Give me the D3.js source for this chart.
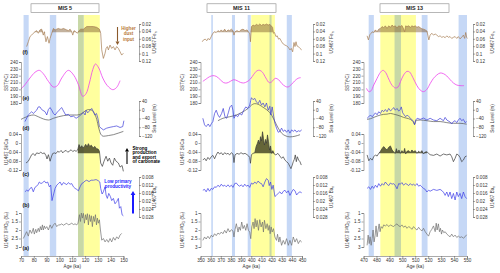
<!DOCTYPE html>
<html><head><meta charset="utf-8">
<script src="https://cdn.jsdelivr.net/npm/d3@7"></script>
<style>body{margin:0;background:#fff}svg{display:block}text{font-family:"Liberation Sans",Arial,sans-serif}</style>
</head><body><svg id="c" width="500" height="273"></svg>
<script>
// ---------------- DATA ----------------
const ticks5 = [70,80,90,100,110,120,130,140,150];
const ticks11 = [350,360,370,380,390,400,410,420,430,440,450];
const ticks13 = [470,480,490,500,510,520,530,540,550];
const feTicks = [0.02,0.04,0.06,0.08,0.1,0.12];
const sstTicks = [180,190,200,210,220,230,240];
const slTicks = [40,0,-40,-80,-120];
const sicaTicks = [0.04,0,-0.04,-0.08,-0.12];
const baTicks = [0.008,0.012,0.016,0.02,0.024,0.028];
const d18oTicks = [1,1.5,2,2.5,3];

const bands5 = [[119,131.5,"yellow"],[72,76,"blue"],[92.5,97.5,"blue"],[114.5,119,"green"]];
const bands11 = [[400,423.3,"yellow"],[360.6,362.2,"blue"],[381,384,"blue"],[396.5,399.5,"blue"],[418,420,"green"],[435,440,"blue"]];
const bands13 = [[483,510.5,"yellow"],[474,478,"blue"],[494,499,"green"],[515,519.5,"blue"],[543.5,550,"blue"]];

const sicaFill5 = [114.3,131.4], sicaFill11 = [400,423], sicaFill13 = [481,519];

const fe5 = [[74.4,0.081],[75.7,0.068],[77,0.054],[78.3,0.05],[79.6,0.045],[80.9,0.041],[82.2,0.038],[83.5,0.045],[84.8,0.036],[86.1,0.034],[87.4,0.05],[88.2,0.041],[89.5,0.068],[90.6,0.054],[91.9,0.072],[92.7,0.059],[94,0.045],[95.3,0.032],[96.6,0.036],[97.9,0.034],[99.2,0.032],[100.5,0.034],[101.8,0.034],[103.1,0.032],[104.4,0.034],[105.7,0.036],[107,0.038],[108.3,0.034],[109.6,0.041],[110.4,0.05],[111.4,0.038],[112.7,0.041],[114,0.045],[115.3,0.038],[116.6,0.034],[118.7,0.034],[121.3,0.027],[123.9,0.027],[126.5,0.027],[129.1,0.029],[131.2,0.034],[132.2,0.045],[133,0.09],[134.3,0.113],[135.6,0.099],[136.4,0.086],[137.4,0.081],[138.2,0.09],[139.5,0.077],[140.8,0.086],[142.1,0.081],[143.4,0.09],[144.7,0.081],[146,0.086],[147.3,0.095],[148.6,0.104],[149.9,0.099]];
const sst5 = [[70,200.5],[73.1,206.8],[77,216.6],[80.9,224.9],[84.3,227.8],[87.4,222.9],[91.4,211.7],[95.3,203.4],[98.4,205.4],[101.8,216.6],[107,227.8],[111.4,220],[114.8,206.8],[118.2,189.8],[120.8,193.7],[123.4,209.3],[126,228.8],[128.1,237.1],[130.7,231.2],[133.8,216.6],[137.4,205.4],[141.6,199.5],[144.7,202.9],[147.3,212.7]];
const slProxy5 = [[73.1,-54],[75.7,-24],[78.3,-9],[79.6,-17],[82.2,-2],[83.5,13],[84.8,13],[86.1,1],[88.8,-9],[90.1,-24],[91.4,1],[92.7,10],[94,-2],[95.3,-17],[96.6,-24],[97.9,-14],[99.7,-2],[101.8,10],[103.1,-5],[104.9,-24],[107,-21],[108.8,-32],[110.9,-29],[113,-39],[114.8,-32],[116.6,-24],[118.7,-12],[120,-24],[120.8,-2],[122.1,-14],[123.4,-5],[125.2,6],[126.5,-9],[127.6,-24],[128.9,-17],[130,-39],[131.2,-77],[132.5,-84],[134.3,-92],[136.9,-84],[139.5,-80],[142.1,-77],[144.7,-74],[147.3,-81],[149.4,-77],[150.3,-50]];
const sl5 = [[70,-44],[74.4,-32],[79.6,-24],[83.5,-32],[87.4,-42],[91.4,-47],[95.3,-39],[99.2,-32],[103.1,-27],[108.3,-24],[113.5,-24],[117.4,-17],[120,-6],[122.6,1],[125.2,-2],[127.3,-17],[129.1,-44],[130.7,-84],[132.2,-111],[134.3,-121],[138.2,-118],[142.1,-114],[145.9,-107],[149.9,-99]];
const sica5 = [[73.9,-0.089],[75.7,-0.081],[77,-0.067],[78.3,-0.052],[79.6,-0.047],[80.9,-0.056],[82.2,-0.044],[84.1,-0.047],[85.4,-0.041],[86.9,-0.047],[88.2,-0.044],[89.5,-0.056],[90.3,-0.071],[91.4,-0.052],[92.7,-0.081],[93.7,-0.062],[94.7,-0.047],[96,-0.044],[97.3,-0.047],[98.6,-0.037],[99.9,-0.041],[101.3,-0.033],[102.6,-0.044],[103.9,-0.036],[105.2,-0.033],[106.5,-0.041],[107.8,-0.036],[109.1,-0.03],[110.4,-0.038],[111.7,-0.033],[113,-0.037],[114.3,-0.03],[115.3,-0.007],[116.4,-0.022],[117.4,-0.012],[118.4,-0.022],[119.5,-0.015],[120.5,-0.006],[121.6,-0.018],[122.6,-0.003],[123.6,-0.015],[124.9,-0.01],[126.3,-0.022],[127.6,-0.015],[128.9,-0.025],[130.2,-0.027],[131.2,-0.037],[132.2,-0.089],[133.5,-0.104],[134.8,-0.081],[136.4,-0.059],[137.7,-0.081],[139,-0.067],[140.3,-0.089],[141.6,-0.099],[142.9,-0.067],[144.2,-0.081],[146,-0.089],[147.3,-0.107],[148.9,-0.1],[149.9,-0.126]];
const ba5 = [[73.1,0.0154],[74.4,0.0146],[75.7,0.0151],[77,0.0137],[78.3,0.0132],[79.6,0.0154],[80.9,0.0132],[82.2,0.0126],[83.5,0.0116],[84.3,0.0105],[85.6,0.0113],[86.9,0.0108],[88.2,0.01],[89.5,0.011],[90.8,0.0105],[92.1,0.0129],[93.2,0.0121],[94.2,0.0198],[95.3,0.017],[96.6,0.0137],[97.9,0.0121],[99.2,0.0113],[100.5,0.0105],[101.8,0.0121],[103.1,0.0108],[104.4,0.0113],[105.7,0.0118],[107,0.0108],[108.3,0.0116],[109.6,0.0113],[110.9,0.0129],[112.2,0.0137],[113.5,0.0142],[114.8,0.0149],[116.1,0.0129],[117.4,0.0113],[118.7,0.0108],[120,0.01],[121.3,0.0096],[123.1,0.0103],[124.7,0.0096],[126.5,0.0096],[128.6,0.0093],[130.2,0.0098],[131.5,0.0105],[132.2,0.0137],[133.3,0.0165],[134.3,0.0154],[135.6,0.0129],[136.4,0.017],[137.4,0.0187],[138.5,0.0162],[139.8,0.0178],[140.8,0.0198],[142.1,0.0187],[143.4,0.0214],[144.7,0.0203],[146,0.0187],[146.8,0.0236],[147.9,0.0228],[148.9,0.0269],[149.9,0.0274]];
const d18o5 = [[71.8,2.5],[73.1,2.3],[74.4,2.1],[75.7,2.36],[77,2],[78.3,2.2],[79.6,1.9],[80.4,2.24],[81.5,1.96],[82.2,2.16],[83.5,1.9],[84.3,2.1],[85.1,1.8],[85.9,2],[86.7,1.7],[87.4,2],[88.2,1.76],[89,1.92],[90.1,1.8],[91.4,2],[92.7,1.7],[94,1.9],[95.3,1.7],[96.6,1.6],[97.9,1.8],[99.2,1.7],[100.5,1.7],[101.8,1.64],[103.1,1.72],[104.4,1.66],[105.7,1.6],[107,1.7],[108.3,1.66],[109.6,1.6],[110.9,1.68],[112.2,1.64],[113.5,1.7],[114.5,1.6],[115.6,1.1],[116.4,1.5],[117.1,1],[117.9,1.3],[118.7,1.02],[119.5,1.6],[120.3,1.1],[121,1.4],[121.8,1.04],[122.6,1.7],[123.4,1.1],[124.2,1.5],[124.9,1.16],[125.7,1.8],[126.5,1.2],[127.3,1.5],[128.1,1.1],[128.9,1.7],[129.6,1.3],[130.4,1.6],[131.2,1.4],[132,2],[133,2.6],[134.3,2.5],[135.6,2.7],[136.9,2.56],[138.2,2.72],[139.5,2.5],[140.8,2.7],[142.1,2.44],[143.4,2.6],[144.7,2.4],[146,2.52],[147.3,2.3],[148.6,2.2]];

const fe11 = [[351.7,0.068],[353,0.063],[354.6,0.061],[356.3,0.065],[357.6,0.059],[358.9,0.063],[360.6,0.054],[362.2,0.045],[363.9,0.041],[365.5,0.043],[367.2,0.038],[368.8,0.041],[370.5,0.036],[372.1,0.041],[373.8,0.034],[375.4,0.041],[377.1,0.036],[378.7,0.038],[380.4,0.034],[382,0.038],[383,0.05],[384,0.041],[386,0.038],[388,0.041],[389.9,0.036],[391.9,0.034],[393.9,0.038],[395.9,0.036],[397.5,0.043],[398.5,0.045],[399.2,0.068],[400.2,0.027],[401.8,0.023],[403.5,0.025],[405.1,0.021],[406.8,0.024],[408.4,0.02],[410.1,0.024],[411.7,0.021],[413.4,0.023],[415,0.02],[416.7,0.023],[418.3,0.021],[419.6,0.025],[421,0.029],[421.9,0.045],[422.9,0.043],[424.3,0.054],[425.6,0.052],[426.9,0.061],[428.2,0.059],[429.9,0.068],[431.5,0.074],[433.2,0.077],[434.8,0.079],[436.5,0.083],[438.1,0.09],[439.4,0.086],[440.8,0.095],[442.1,0.07],[443.1,0.081],[444.1,0.068],[445,0.079],[446.4,0.081],[448,0.086],[449.7,0.09]];
const sst11 = [[352.3,211.7],[355.6,215.1],[358.9,218.5],[362.2,220],[365.5,219],[369.5,214.1],[372.8,209.8],[376.1,209.3],[379.4,211.7],[382.7,214.1],[386,212.7],[389.3,210.2],[392.6,209.3],[395.9,211.2],[399.2,215.1],[402.5,222],[405.8,227.3],[408.4,227.8],[411.1,224.9],[414.4,216.6],[417.7,209.8],[420.3,211.2],[423.6,216.1],[426.9,214.1],[430.2,208.3],[433.5,204.4],[436.1,203.4],[439.4,206.8],[442.7,212.2],[446,216.1],[448.7,217.1]];
const slProxy11 = [[352.3,-39],[354,-69],[355.6,-77],[357.6,-65],[359.2,-77],[360.9,-62],[362.2,-54],[363.9,-17],[365.5,-2],[367.2,-24],[368.8,-35],[370.8,-17],[372.4,6],[374.1,-32],[375.7,-39],[377.4,-14],[379,13],[380.7,21],[382,-2],[383,-39],[384.7,-24],[386.6,-32],[388.6,-17],[390.6,-24],[392.6,-2],[394.6,13],[396.5,6],[398.5,21],[399.5,43],[400.2,55],[401.8,46],[403.5,52],[405.1,36],[406.8,28],[408.4,43],[410.1,21],[411.7,31],[413.4,13],[415,31],[416.7,-2],[418.3,16],[419.3,-24],[420.6,13],[421.9,-24],[423.3,-62],[424.9,-84],[426.6,-103],[428.2,-99],[429.9,-84],[431.5,-99],[433.2,-92],[434.8,-103],[436.5,-92],[438.1,-107],[439.8,-92],[441.4,-99],[443.1,-92],[444.7,-102],[446.4,-96],[448,-99],[449.7,-92]];
const sl11 = [[367.2,-50],[372.1,-39],[378.7,-32],[385.3,-24],[391.9,-9],[396.9,6],[400.2,21],[403.5,28],[406.8,25],[410.1,16],[413.4,6],[416.7,-6],[420,-24],[423.3,-54],[426.6,-84],[429.9,-107],[433.2,-118],[438.1,-124],[443.1,-121],[448,-114]];
const sica11 = [[352.3,-0.076],[354,-0.068],[355.6,-0.079],[357.3,-0.064],[358.9,-0.073],[360.6,-0.061],[362.2,-0.055],[363.9,-0.07],[365.5,-0.053],[367.2,-0.04],[368.8,-0.049],[370.5,-0.043],[372.1,-0.053],[373.8,-0.043],[375.4,-0.049],[377.1,-0.046],[378.7,-0.053],[380.4,-0.043],[382,-0.049],[383,-0.087],[384,-0.053],[386,-0.046],[388,-0.05],[389.9,-0.043],[391.9,-0.049],[393.9,-0.046],[395.9,-0.052],[397.5,-0.058],[398.5,-0.064],[399.2,-0.09],[400.2,-0.052],[401.8,-0.046],[403.5,-0.043],[404.8,-0.016],[406.1,-0.001],[407.1,0.013],[408.1,-0.004],[409.1,0.028],[410.1,0.01],[411.1,0.05],[412,0.021],[413,-0.009],[414,0.016],[415,-0.001],[416,0.036],[417,0.006],[418,-0.031],[419,-0.013],[420,-0.046],[421.3,-0.034],[422.6,-0.049],[424.3,-0.053],[426.2,-0.046],[428.2,-0.058],[429.9,-0.068],[431.5,-0.061],[433.2,-0.076],[434.8,-0.083],[436.5,-0.09],[438.1,-0.105],[439.1,-0.114],[440.4,-0.098],[441.4,-0.083],[442.4,-0.073],[443.4,-0.053],[444.4,-0.083],[445.4,-0.061],[446.7,-0.076],[448,-0.083],[449.3,-0.098]];
const ba11 = [[352.3,0.0146],[354,0.0142],[355.6,0.0154],[357.3,0.0137],[358.9,0.0151],[360.6,0.0137],[362.2,0.0142],[363.9,0.0129],[365.5,0.0132],[367.2,0.0121],[368.8,0.0129],[370.5,0.0116],[372.1,0.0126],[373.8,0.0121],[375.4,0.0129],[377.1,0.0119],[378.7,0.0129],[380.4,0.0121],[382,0.0132],[383.7,0.0113],[385.3,0.011],[387,0.0121],[388.6,0.0126],[390.3,0.0119],[391.9,0.0129],[393.6,0.0116],[395.2,0.0126],[396.9,0.0121],[398.5,0.0132],[400.2,0.011],[401.8,0.0116],[403.5,0.0105],[405.1,0.0113],[406.8,0.01],[408.4,0.011],[410.1,0.0113],[411.7,0.0129],[413.4,0.0105],[415,0.0088],[416.7,0.0096],[417.7,0.0123],[419,0.0105],[420.3,0.0142],[421.6,0.0121],[423.3,0.0178],[424.9,0.017],[426.6,0.0162],[428.2,0.0154],[429.9,0.0165],[431.5,0.0152],[433.2,0.0146],[434.8,0.0159],[436.5,0.0149],[438.1,0.0172],[439.8,0.0155],[441.4,0.0142],[443.1,0.0149],[444.7,0.017],[446.4,0.0159],[448,0.0154],[449.7,0.0159]];
const d18o11 = [[352.3,2.61],[354,2.41],[355.6,2.53],[357.3,2.37],[358.9,2.51],[360.6,2.31],[362.2,2.41],[363.9,2.22],[365.5,2.33],[367.2,2.18],[368.8,2.25],[370.5,2.12],[372.1,2.22],[373.8,2.02],[375.4,2.18],[377.1,1.92],[378.7,2.12],[380.4,1.98],[382,2.06],[383,2.41],[384,1.98],[385.3,1.63],[387,2.12],[388,1.82],[389.3,2.02],[390.6,1.53],[391.9,1.92],[393.2,1.73],[394.6,2.02],[395.9,1.63],[397.2,2.02],[398.5,2.12],[399.5,2.51],[400.5,1.82],[401.8,1.53],[402.8,1.92],[403.8,1.33],[404.8,1.82],[405.8,1.43],[407.1,2.02],[408.4,1.39],[409.7,1.82],[411.1,1.53],[412,2.12],[413,1.43],[414.4,1.92],[415.7,1.63],[416.7,2.02],[417.7,1.73],[418.6,2.22],[419.6,1.82],[420.6,2.12],[421.9,1.92],[423.3,2.41],[424.9,2.61],[425.9,2.25],[427.2,2.71],[428.2,2.41],[429.9,2.9],[431.5,2.61],[433.2,2.84],[434.8,2.51],[436.5,2.9],[438.1,2.61],[439.8,2.9],[441.4,2.41],[443.1,2.71],[444.7,2.51],[446.4,2.8],[448,2.61],[449.7,2.71]];

const fe13 = [[472.8,0.052],[473.8,0.063],[474.9,0.049],[475.9,0.045],[476.9,0.041],[477.9,0.043],[479.2,0.036],[480.5,0.041],[481.8,0.034],[483.1,0.032],[484.4,0.027],[485.6,0.03],[486.9,0.025],[488.2,0.032],[489.5,0.025],[490.8,0.029],[492.1,0.023],[493.3,0.027],[494.6,0.025],[495.9,0.031],[497.2,0.025],[498.5,0.027],[499.7,0.024],[501,0.033],[501.8,0.041],[502.6,0.025],[503.6,0.027],[504.9,0.025],[506.2,0.029],[507.4,0.025],[508.7,0.027],[510,0.025],[511.3,0.029],[512.6,0.027],[513.8,0.03],[515.1,0.033],[516.4,0.034],[517.7,0.036],[519,0.039],[519.7,0.05],[520.5,0.063],[521.5,0.05],[522.8,0.045],[524.1,0.05],[525.4,0.047],[526.7,0.05],[527.9,0.054],[529.2,0.052],[530.5,0.056],[531.8,0.054],[533.1,0.057],[534.4,0.052],[535.6,0.056],[536.9,0.054],[538.2,0.059],[539.5,0.056],[540.8,0.054],[542.1,0.059],[543.3,0.054],[544.6,0.06],[545.9,0.056],[547.2,0.05],[548.2,0.059],[549,0.043],[549.7,0.056],[550.3,0.059]];
const sst13 = [[472.3,201.5],[474.1,196.6],[475.9,198],[477.9,206.3],[480.5,216.1],[483.1,224.9],[485.1,227.8],[487.2,224.4],[489.5,215.1],[492.1,205.9],[494.6,202],[496.7,203.4],[498.7,211.7],[501,221],[503.6,226.3],[505.6,225.4],[508.2,217.1],[511.3,205.4],[513.8,199],[516.4,196.6],[519,200],[521.5,208.3],[524.1,216.1],[526.7,221],[529.2,223.9],[531.8,222.9],[534.4,219.5],[537,214.1],[539.5,209.3],[542.1,206.3],[544.6,205.4],[547.7,205.4]];
const slProxy13 = [[472.8,-39],[474.1,-32],[475.4,-24],[476.7,-32],[477.9,-24],[479.2,-14],[480.5,-23],[481.8,-9],[483.1,-17],[484.4,-2],[485.6,-9],[486.9,1],[488.2,-9],[489.5,6],[490.8,-5],[492.1,1],[493.3,10],[494.6,-2],[495.9,6],[497.2,-6],[498.5,1],[499.2,13],[500.3,-14],[501.5,-24],[502.6,-32],[503.8,-24],[505.1,-32],[506.4,-39],[507.7,-47],[508.7,-54],[509.5,-69],[510.3,-47],[511.5,-39],[513.8,-44],[516.4,-38],[519,-47],[521.5,-39],[524.1,-47],[526.7,-50],[529.2,-39],[531.8,-50],[533.1,-35],[534.4,-47],[536.9,-56],[538.2,-65],[539.5,-54],[540.8,-50],[542.1,-59],[543.3,-47],[544.6,-39],[545.9,-50],[547.2,-44],[548.5,-59],[549.7,-54]];
const sl13 = [[472.8,-44],[475.4,-41],[477.9,-35],[480.5,-29],[483.1,-24],[485.6,-21],[488.2,-20],[490.8,-17],[493.3,-20],[495.9,-24],[498.5,-29],[501,-35],[503.6,-39],[506.2,-44],[508.2,-54],[509.5,-66],[510.8,-48],[513.8,-47],[519,-50],[524.1,-54],[529.2,-54],[534.4,-59],[539.5,-62],[544.6,-62],[549.7,-66]];
const sica13 = [[472.8,-0.053],[474.1,-0.079],[475.4,-0.068],[476.7,-0.076],[477.9,-0.061],[479.2,-0.053],[480.5,-0.058],[481.8,-0.046],[483.1,-0.037],[484.4,-0.024],[485.6,-0.016],[486.9,-0.024],[488.2,-0.031],[489.5,-0.019],[490.8,-0.013],[492.1,-0.031],[493.3,-0.04],[494.6,-0.046],[495.4,-0.025],[496.4,-0.043],[497.4,-0.031],[498.5,-0.046],[499.7,-0.034],[501,-0.043],[501.8,-0.024],[502.6,-0.049],[503.6,-0.037],[504.9,-0.034],[506.2,-0.043],[507.4,-0.031],[508.7,-0.039],[510,-0.034],[511.3,-0.046],[512.6,-0.037],[513.8,-0.043],[515.1,-0.034],[516.4,-0.049],[517.7,-0.04],[519,-0.039],[520.3,-0.046],[521.5,-0.052],[524.1,-0.055],[526.7,-0.049],[529.2,-0.058],[531.8,-0.049],[534.4,-0.053],[536.9,-0.049],[538.2,-0.061],[539.5,-0.083],[540.8,-0.068],[542.1,-0.049],[543.3,-0.053],[544.6,-0.064],[545.9,-0.083],[547.2,-0.076],[548.5,-0.061],[549.7,-0.058]];
const ba13 = [[472.8,0.0137],[474.1,0.0129],[475.4,0.0142],[476.7,0.0126],[477.9,0.0137],[479.2,0.0121],[480.5,0.0132],[481.8,0.0113],[483.1,0.0126],[484.4,0.0113],[485.6,0.0121],[486.9,0.0105],[488.2,0.0116],[489.5,0.0123],[490.8,0.011],[492.1,0.0116],[493.3,0.0113],[494.6,0.0123],[495.9,0.0139],[497.2,0.0113],[498.5,0.0116],[499.7,0.0108],[501,0.0121],[502.3,0.0113],[503.6,0.0116],[504.9,0.0123],[506.2,0.0113],[507.4,0.0121],[508.7,0.0116],[510,0.0123],[511.3,0.0113],[512.6,0.0126],[513.8,0.0121],[515.1,0.0129],[516.4,0.0137],[517.7,0.0142],[519,0.0155],[520.3,0.0146],[521.5,0.0151],[524.1,0.0142],[526.7,0.0147],[529.2,0.0142],[530.8,0.0149],[532.1,0.0159],[533.1,0.0172],[534.4,0.0155],[535.6,0.0178],[536.9,0.0155],[538.2,0.0188],[539.5,0.0162],[540.8,0.0195],[542.1,0.0155],[543.3,0.0178],[544.6,0.0162],[545.9,0.0188],[547.2,0.0155],[548.5,0.0178],[549.7,0.0188]];
const d18o13 = [[472.8,2.9],[473.6,2.3],[474.4,2.8],[475.1,2.4],[475.9,2.9],[476.7,2.5],[477.4,2],[478.2,2.7],[479,2.3],[479.7,1.76],[480.5,2.4],[481.3,2],[482.1,1.64],[482.8,2.1],[483.6,1.8],[484.6,1.9],[485.6,1.7],[486.9,1.76],[488.2,1.68],[489.5,1.8],[490.8,1.7],[492.1,1.76],[493.3,1.8],[494.6,1.7],[495.9,1.64],[497.2,1.76],[498.5,1.8],[499.7,1.7],[501,1.84],[502.3,1.76],[503.6,1.9],[504.9,1.8],[506.2,1.86],[507.4,1.96],[508.7,1.8],[510,1.92],[511.3,2],[512.6,1.84],[513.8,1.96],[515.1,2.06],[516.4,1.9],[517.7,2.1],[519,2.24],[520.3,2.36],[521.5,2.1],[522.8,1.96],[524.1,1.76],[525.4,2.1],[526.2,1.6],[526.9,2],[527.9,1.64],[528.7,2.1],[529.5,1.9],[530.3,2.24],[531,2],[532.1,2.16],[533.1,2.1],[534.4,2.24],[535.6,2.32],[536.9,2.4],[538.2,2.24],[539.5,2.4],[540.8,2.3],[542.1,2.44],[543.3,2.36],[544.6,2.44],[545.9,2.4],[547.2,2.48],[548.5,2.4],[549.7,2.28]];

// ---------------- LAYOUT ----------------
const svg = d3.select("#c");
const FS = 4.6, FF = '"Liberation Sans",Arial,sans-serif';
const C = {blue:"#c6d8f6", yellow:"#ffff9e", green:"#c8d8a6", fe:"#a67c52", feFill:"#7a5528", sst:"#ee44ee",
  slProxy:"#3c3cd8", sl:"#555555", sica:"#3a3a3a", sicaFill:"#3e3e1e", ba:"#3b3be6", d18o:"#707070", axis:"#555"};
const Y = {
  fe: d3.scaleLinear().domain([0.02,0.12]).range([24,61]),
  sst: d3.scaleLinear().domain([180,240]).range([103,62]),
  sl: d3.scaleLinear().domain([-120,40]).range([136,101]),
  sica: d3.scaleLinear().domain([-0.12,0.04]).range([170,134]),
  ba: d3.scaleLinear().domain([0.008,0.028]).range([177,217]),
  d18o: d3.scaleLinear().domain([1,3]).range([213,247])
};
const FE_BASE = 0.042, SICA_BASE = -0.046;
const panels = [
  {mis:"MIS 5", dom:[70,150], rng:[21,123.5], ticks:ticks5, box:[31,99], rx:139, rlab:156, llab:8, bands:bands5, fill:sicaFill5,
   fe:fe5, sst:sst5, slp:slProxy5, sl:sl5, sica:sica5, ba:ba5, d18o:d18o5, letters:true},
  {mis:"MIS 11", dom:[350,450], rng:[200.5,302], ticks:ticks11, box:[207,276], rx:313, rlab:333, llab:184, bands:bands11, fill:sicaFill11,
   fe:fe11, sst:sst11, slp:slProxy11, sl:sl11, sica:sica11, ba:ba11, d18o:d18o11},
  {mis:"MIS 13", dom:[470,550], rng:[363.5,467], ticks:ticks13, box:[380,449], rx:473, rlab:494, llab:349, bands:bands13, fill:sicaFill13,
   fe:fe13, sst:sst13, slp:slProxy13, sl:sl13, sica:sica13, ba:ba13, d18o:d18o13}
];

function styleAxis(g){
  g.attr("font-size",FS).attr("font-family",FF);
  g.selectAll("path").attr("stroke",C.axis).attr("stroke-width",0.5);
  g.selectAll("line").attr("stroke",C.axis).attr("stroke-width",0.5);
  g.selectAll("text").attr("fill","#333");
}
const fmt = d => String(+d.toFixed(3));
function rotLabel(x, y, parts){
  const t = svg.append("text").attr("transform",`translate(${x},${y}) rotate(-90)`)
    .attr("text-anchor","middle").attr("font-size",FS).attr("fill","#333");
  parts.forEach(p => { const s = t.append("tspan").text(p[0]); if (p[1]) s.attr("dy",p[1]); if (p[2]) s.attr("font-size",p[2]); });
}

panels.forEach(P => {
  const x = d3.scaleLinear().domain(P.dom).range(P.rng);
  const g = svg.append("g");
  // bands
  P.bands.forEach(b => g.append("rect").attr("x",x(b[0])).attr("width",x(b[1])-x(b[0]))
    .attr("y",15).attr("height",241).attr("fill",C[b[2]]));
  // MIS box
  svg.append("rect").attr("x",P.box[0]).attr("y",3.8).attr("width",P.box[1]-P.box[0]).attr("height",8.6)
    .attr("fill","#fff").attr("stroke","#888").attr("stroke-width",0.6);
  svg.append("text").attr("x",(P.box[0]+P.box[1])/2).attr("y",10.2).attr("text-anchor","middle")
    .attr("font-size",5.4).attr("font-weight","bold").attr("fill","#222").text(P.mis);

  const line = (ys) => d3.line().x(d=>x(d[0])).y(d=>ys(d[1]));
  // Fe fill + line
  g.append("path").datum(P.fe).attr("d", d3.area().x(d=>x(d[0])).y0(Y.fe(FE_BASE)).y1(d=>Y.fe(Math.min(d[1],FE_BASE))))
    .attr("fill",C.feFill).attr("fill-opacity",0.45);
  g.append("path").datum(P.fe).attr("d",line(Y.fe)).attr("fill","none").attr("stroke",C.fe).attr("stroke-width",0.7);
  // SST
  g.append("path").datum(P.sst).attr("d",d3.line().curve(d3.curveCatmullRom).x(d=>x(d[0])).y(d=>Y.sst(d[1])))
    .attr("fill","none").attr("stroke",C.sst).attr("stroke-width",0.8);
  // sea level
  g.append("path").datum(P.sl).attr("d",d3.line().curve(d3.curveMonotoneX).x(d=>x(d[0])).y(d=>Y.sl(d[1])))
    .attr("fill","none").attr("stroke",C.sl).attr("stroke-width",0.7);
  g.append("path").datum(P.slp).attr("d",line(Y.sl)).attr("fill","none").attr("stroke",C.slProxy).attr("stroke-width",0.7);
  // Si/Ca
  const fd = P.sica.filter(d => d[0] >= P.fill[0] && d[0] <= P.fill[1]);
  g.append("path").datum(fd).attr("d", d3.area().x(d=>x(d[0])).y0(Y.sica(SICA_BASE)).y1(d=>Y.sica(Math.max(d[1],SICA_BASE))))
    .attr("fill",C.sicaFill).attr("fill-opacity",0.8);
  g.append("path").datum(P.sica).attr("d",line(Y.sica)).attr("fill","none").attr("stroke",C.sica).attr("stroke-width",0.7);
  // Ba
  g.append("path").datum(P.ba).attr("d",line(Y.ba)).attr("fill","none").attr("stroke",C.ba).attr("stroke-width",0.7);
  // d18O
  g.append("path").datum(P.d18o).attr("d",line(Y.d18o)).attr("fill","none").attr("stroke",C.d18o).attr("stroke-width",0.7);

  // axes
  const lx = P.rng[0];
  svg.append("g").attr("transform","translate(0,256)").call(d3.axisBottom(x).tickValues(P.ticks).tickSize(2).tickPadding(1)).call(styleAxis);
  svg.append("text").attr("x",(P.rng[0]+P.rng[1])/2).attr("y",268).attr("text-anchor","middle").attr("font-size",FS).attr("fill","#333").text("Age (ka)");
  svg.append("g").attr("transform",`translate(${lx},0)`).call(d3.axisLeft(Y.sst).tickValues(sstTicks).tickSize(2).tickPadding(1)).call(styleAxis);
  svg.append("g").attr("transform",`translate(${lx},0)`).call(d3.axisLeft(Y.sica).tickValues(sicaTicks).tickFormat(fmt).tickSize(2).tickPadding(1)).call(styleAxis);
  svg.append("g").attr("transform",`translate(${lx},0)`).call(d3.axisLeft(Y.d18o).tickValues(d18oTicks).tickFormat(fmt).tickSize(2).tickPadding(1)).call(styleAxis);
  svg.append("g").attr("transform",`translate(${P.rx},0)`).call(d3.axisRight(Y.fe).tickValues(feTicks).tickFormat(fmt).tickSize(2).tickPadding(1)).call(styleAxis);
  svg.append("g").attr("transform",`translate(${P.rx},0)`).call(d3.axisRight(Y.sl).tickValues(slTicks).tickSize(2).tickPadding(1)).call(styleAxis);
  svg.append("g").attr("transform",`translate(${P.rx},0)`).call(d3.axisRight(Y.ba).tickValues(baTicks).tickFormat(fmt).tickSize(2).tickPadding(1)).call(styleAxis);

  rotLabel(P.llab, 82.5, [["SST(ºC)"]]);
  rotLabel(P.llab, 152, [["U1467 Si/Ca"]]);
  rotLabel(P.llab, 230, [["U1467 δ"],["18",-1.4,3.3],["O",1.4,FS],["G",1,3.3],[" (‰)",-1,FS]]);
  rotLabel(P.rlab, 42.5, [["U1467 Fe"],["n",1,3.3]]);
  rotLabel(P.rlab, 118.5, [["Sea Level (m)"]]);
  rotLabel(P.rlab, 197, [["U1467 Ba"],["n",1,3.3]]);

  if (P.letters) {
    [["(f)",54],["(e)",100],["(d)",130],["(c)",176],["(b)",207],["(a)",250]].forEach(l =>
      svg.append("text").attr("x",22.5).attr("y",l[1]).attr("font-size",5.4).attr("font-weight","bold").attr("fill","#222").text(l[0]));
  }
});

// annotations (panel MIS 5)
const defs = svg.append("defs");
function arrow(x, y1, y2, color, w, hw, hl){
  svg.append("line").attr("x1",x).attr("x2",x).attr("y1",y1).attr("y2",y2 + (y2>y1?-hl:hl)).attr("stroke",color).attr("stroke-width",w);
  const s = y2>y1?-1:1;
  svg.append("path").attr("d",`M${x-hw},${y2+s*hl}L${x+hw},${y2+s*hl}L${x},${y2}Z`).attr("fill",color);
}
arrow(117.5, 27, 45, "#8b5a2b", 1.1, 2, 3.5);
arrow(127, 164, 148, "#000", 1.1, 2, 3.5);
arrow(133, 213.5, 191, "#1a1aff", 2, 2.4, 4);
function ann(lines, x, y0, dy, color, anchor){
  lines.forEach((t,i) => svg.append("text").attr("x",x).attr("y",y0+i*dy).attr("text-anchor",anchor)
    .attr("font-size",4.6).attr("font-weight","bold").attr("fill",color).text(t));
}
ann(["Higher","dust","input"], 128.5, 29.5, 5.6, "#b8783a", "middle");
ann(["Strong","production","and export","of carbonate"], 132.5, 150, 4.3, "#000", "start");
ann(["Low primary","productivity"], 118, 182.5, 5.6, "#2b2bff", "middle");
</script></body></html>
